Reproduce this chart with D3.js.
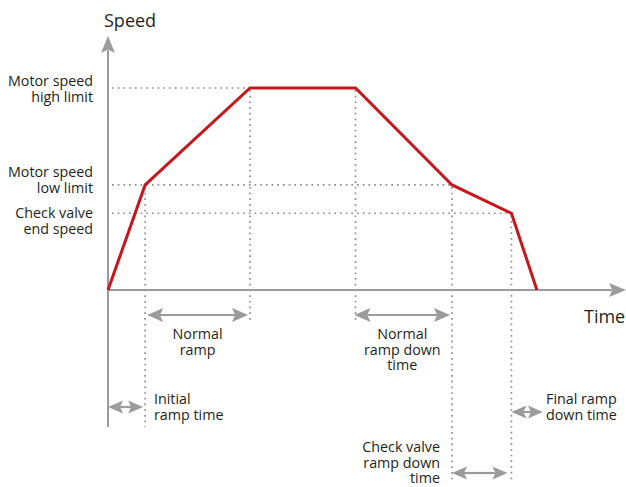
<!DOCTYPE html>
<html>
<head>
<meta charset="utf-8">
<script src="https://cdn.jsdelivr.net/npm/d3@7"></script>
<style>
  html, body { margin: 0; padding: 0; background: #fff; }
  svg { display: block; }
  text { font-family: "Open Sans", "Liberation Sans", Arial, sans-serif; fill: #231f20; }
</style>
</head>
<body>
<svg id="chart" width="626" height="487"></svg>
<script>
// ---- Data ----
const phaseTimes  = [0, 1.5, 5.74, 10.0, 13.9, 16.3, 17.33];   // time units
const phaseSpeeds = [0, 52, 100, 100, 52, 38, 0];               // % of high limit
const levelValues = [100, 52, 38];
const levelLabels = [["Motor speed", "high limit"], ["Motor speed", "low limit"], ["Check valve", "end speed"]];
const levelEndIdx = [2, 4, 5];
const axisTitles  = ["Speed", "Time"];
// annotation spans (phase indices) and labels
const spanFrom   = [1, 3, 0, 5, 4];
const spanTo     = [2, 4, 1, 6, 5];
const spanLabels = [["Normal", "ramp"], ["Normal", "ramp down", "time"], ["Initial", "ramp time"], ["Final ramp", "down time"], ["Check valve", "ramp down", "time"]];

// ---- Layout ----
const svg = d3.select("#chart");
const x = d3.scaleLinear().domain([0, 20]).range([108, 108 + 20 * 24.75]);
const y = d3.scaleLinear().domain([0, 100]).range([290, 88]);

const gray = "#9b9b9c", red = "#c8161d", dotGray = "#8f8f90";
const fs = 14.3, lh = 15.5;

// arrowhead path (tip at 0,0 pointing +x)
function headPath(L, H) {
  return `M0,0 L${-L},${-H/2} L${-L*0.8},0 L${-L},${H/2} Z`;
}

// ---- Dotted guides ----
const guides = svg.append("g").attr("stroke", dotGray).attr("stroke-width", 1.7)
  .attr("stroke-dasharray", "1.7,4").attr("fill", "none");

levelValues.forEach((v, i) => {
  guides.append("line")
    .attr("x1", x(0) + 4).attr("x2", x(phaseTimes[levelEndIdx[i]]))
    .attr("y1", y(v)).attr("y2", y(v));
});
const vEnds = [427, 323, 323, 483, 483];
[1, 2, 3, 4, 5].forEach((idx, i) => {
  guides.append("line")
    .attr("x1", x(phaseTimes[idx])).attr("x2", x(phaseTimes[idx]))
    .attr("y1", y(phaseSpeeds[idx]) + 2).attr("y2", vEnds[i]);
});

// ---- Axes ----
const axes = svg.append("g");
axes.append("line").attr("x1", x(0)).attr("x2", x(0)).attr("y1", 427).attr("y2", 50)
  .attr("stroke", gray).attr("stroke-width", 2);
axes.append("path").attr("d", headPath(17, 14))
  .attr("transform", `translate(${x(0)},36) rotate(-90)`).attr("fill", gray);
axes.append("line").attr("x1", x(0)).attr("x2", 612).attr("y1", y(0)).attr("y2", y(0))
  .attr("stroke", gray).attr("stroke-width", 2);
axes.append("path").attr("d", headPath(17, 14))
  .attr("transform", `translate(626,${y(0)})`).attr("fill", gray);

// ---- Speed profile ----
const line = d3.line().x((d, i) => x(phaseTimes[i])).y(d => y(d));
svg.append("path").datum(phaseSpeeds).attr("d", line)
  .attr("fill", "none").attr("stroke", red).attr("stroke-width", 3)
  .attr("stroke-linejoin", "miter");

// ---- Axis titles ----
svg.append("text").attr("x", 104).attr("y", 27).attr("font-size", 18).text(axisTitles[0]);
svg.append("text").attr("x", 584).attr("y", 323).attr("font-size", 18).text(axisTitles[1]);

// ---- Level labels ----
const lvlBase = [86, 177, 218];
levelLabels.forEach((lines, i) => {
  const t = svg.append("text").attr("text-anchor", "end").attr("font-size", fs);
  lines.forEach((s, j) => t.append("tspan").attr("x", 93).attr("y", lvlBase[i] + j * lh).text(s));
});

// ---- Span arrows ----
const spanY   = [315, 315, 407, 412, 473];
const spanPad = [[2, -2], [-1, -2], [0, -2], [0, 6], [0, -4]];
const headL = [16, 16, 15, 15, 15], headH = [14, 14, 13, 13, 13];
const labelX  = [null, null, 154, 546, 440];
const labelAnchor = ["middle", "middle", "start", "start", "end"];
const labelBase = [339, 339, 404, 404, 452];
const arrows = svg.append("g");
spanFrom.forEach((f, i) => {
  const x1 = x(phaseTimes[f]) + spanPad[i][0], x2 = x(phaseTimes[spanTo[i]]) + spanPad[i][1];
  const yy = spanY[i];
  const L = Math.min(headL[i], (x2 - x1) / 2);
  arrows.append("line").attr("x1", x1 + L * 0.8).attr("x2", x2 - L * 0.8)
    .attr("y1", yy).attr("y2", yy).attr("stroke", gray).attr("stroke-width", 2.2);
  arrows.append("path").attr("d", headPath(L, headH[i]))
    .attr("transform", `translate(${x2},${yy})`).attr("fill", gray);
  arrows.append("path").attr("d", headPath(L, headH[i]))
    .attr("transform", `translate(${x1},${yy}) rotate(180)`).attr("fill", gray);
  const lx = labelX[i] === null ? (x1 + x2) / 2 : labelX[i];
  const t = svg.append("text").attr("text-anchor", labelAnchor[i]).attr("font-size", fs);
  spanLabels[i].forEach((s, j) => t.append("tspan").attr("x", lx).attr("y", labelBase[i] + j * lh).text(s));
});
</script>
</body>
</html>
